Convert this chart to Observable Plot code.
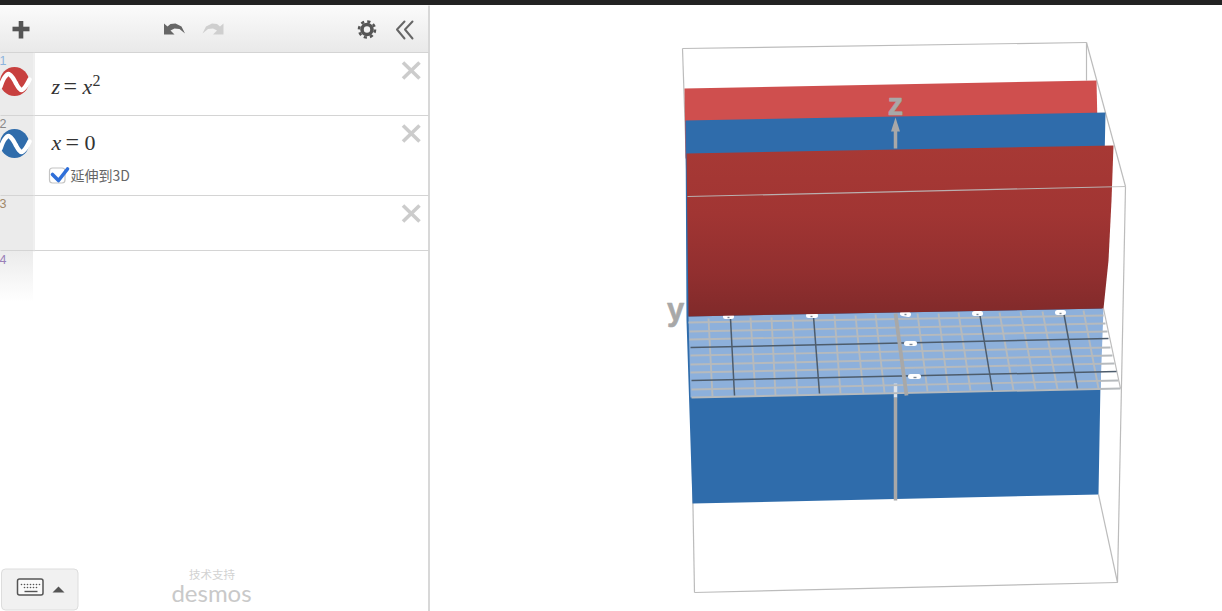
<!DOCTYPE html>
<html><head><meta charset="utf-8">
<script src="https://cdn.jsdelivr.net/npm/d3@7"></script>
<script src="https://cdn.jsdelivr.net/npm/@observablehq/plot@0.6"></script>
<style>html,body{margin:0;padding:0;background:#fff;overflow:hidden}svg{display:block}</style>
</head><body><div id="chart"></div>
<script>
// ---- 3D sheets (picture coordinates)
const sheetRedBack = [[684,88],[1096,80],[1097,125],[685,158]];
const sheetBlue = [[685,120],[1105,112],[1104,160],[1098,494],[692,503],[686,320]];
const sheetRedFront = [[686,153],[1113,145],[1111,200],[1108,260],[1103,308],[688,316]];
const planeLight = [[688,316],[1103,308],[1100,388],[690,397]];
// ---- grid on z = 0
const gridMinorV = [[708,318,712,396],[750,317,755,395],[771,317,775,395],[792,316,797,394],[834,315,840,393],[855,315,863,393],[875,314,884,392],[917,313,927,391],[938,313,948,391],[958,312,970,390],[999,312,1013,390],[1020,311,1035,389],[1042,311,1057,389],[1083,310,1098,388]];
const gridMinorH = [[688,322,1103,315],[689,331,1105,323],[689,339,1107,331],[690,355,1110,347],[690,364,1112,355],[690,372,1114,363],[691,389,1118,380],[691,397,1120,388]];
const gridMajorV = [[730,318,734,395],[813,316,819,393],[979,312,992,390],[1063,311,1077,388]];
const gridMajorH = [[690,347,1108,338],[691,380,1116,371]];
const gridEdge = [[1103,308,1120,388]];
// ---- bounding box
const boxTop = [[682,48,1086,42],[1086,42,1125,186],[682,48,687,196]];
const boxFront = [[687,196,1125,186]];
const boxBack = [[1086,42,1086,80]];
const boxSides = [[687,196,694,592],[1125,186,1117,582],[694,592,1117,582],[1117,582,1098,494]];
// ---- axes
const axisLower = [[895,397,895,500]];
const axisLowerPale = [[895,383,895,397]];
const axisDepth = [[895,313,906,395]];
const axisUpper = [[895,148,895,128]];
const axisHead = [[895,117],[899.5,131],[890.5,131]];
const axisLabels = [{t:"z",x:895,y:105},{t:"y",x:675,y:310}];
const tickBlobs = [[725,316,731,316],[808,315,815,315],[902,313,908,314],[974,313,980,313],[1057,312,1063,312],[906,343,914,343],[910,376,918,376]];
const tickCores = [[727,317,729,317],[810,316,812,316],[904,314,906,314],[976,314,978,314],[1059,313,1061,313],[909,344,912,344],[913,377,916,377]];
// ---- sidebar
const blackBar = [{x1:0,x2:1222,y1:0,y2:5}];
const toolbar = [{x1:0,x2:428,y1:5,y2:52}];
const gutter = [{x1:0,x2:33,y1:52,y2:250}];
const gutterFade = [{x1:0,x2:33,y1:250,y2:302}];
const rowLines = [[0,52,428,52],[0,115,428,115],[0,195,428,195],[0,250,428,250]];
const gutterLine = [[33.5,52,33.5,251]];
const panelLine = [[428.5,5,428.5,611]];
const rowNumbers = [{t:"1",x:-1,y:60,c:"#8db4dd"},{t:"2",x:-1,y:123,c:"#888888"},{t:"3",x:-1,y:203,c:"#a08868"},{t:"4",x:-1,y:259,c:"#9a80b8"}];
const iconDots = [{x:14,y:81,c:"#c8403f"},{x:14,y:143,c:"#2f6cab"}];
const iconWaveRed = [[0,86],[4,77],[8,73.5],[12,77],[15,82],[18,87],[21,89.5],[25,86],[29,79]];
const iconWaveBlue = [[0,148],[4,139],[8,135.5],[12,139],[15,144],[18,149],[21,151.5],[25,148],[29,141]];
const closeBtns = [[402.5,62,419,78],[419,62,402.5,78],[402.5,125,419,141],[419,125,402.5,141],[402.5,205,419,221],[419,205,402.5,221]];
const plusBars = [[12,28.5,29,28.5],[20.5,20.5,20.5,38]];
const undoArrow = [[163.5,23],[163.5,34],[174,34],[170,30],[174,28],[179,28.5],[184.5,33],[181,26],[175,23],[170,23.5],[167,26]];
const redoArrow = [[223,23],[223,34],[212.5,34],[216.5,30],[212.5,28],[207.5,28.5],[202,33],[205.5,26],[211.5,23],[216.5,23.5],[219.5,26]];
const chevronA = [[404,21],[396.5,29],[404,38]];
const chevronB = [[412,21],[404.5,29],[412,38]];
const gear = [{x:366.5,y:29}];
const mathSerifItalic = [{t:"z",x:51,y:89,s:22},{t:"x",x:82,y:89,s:22},{t:"x",x:51,y:145,s:22}];
const mathSerif = [{t:"=",x:63,y:89,s:24},{t:"2",x:92,y:81,s:16},{t:"=",x:65,y:145,s:24},{t:"0",x:84,y:145,s:22}];
const checkBox = [{x1:49.5,x2:65,y1:168,y2:183}];
const checkMark = [[52,174],[58,180],[67,168.5]];
const checkLabel = [{t:"延伸到3D",x:70,y:176}];
const kbButton = [{x1:1.5,x2:78,y1:569,y2:610}];
const kbIcon = [{x1:17.5,x2:43,y1:579,y2:595}];
const kbKeys = [[21,584],[24,584],[27,584],[30,584],[33,584],[36,584],[39,584],[24,587],[27,587],[30,587],[33,587],[36,587]];
const kbSpace = [[24,591,37,591]];
const kbCaret = [[52,592],[64,592],[58,586]];
const credit = [{t:"技术支持",x:211.5,y:575}];
const brand = [{t:"desmos",x:211,y:594}];

const defsSel = d3.create("svg:defs");
const gradient = (id, stops) => {
  const g = defsSel.append("linearGradient").attr("id", id).attr("x1",0).attr("x2",0).attr("y1",0).attr("y2",1);
  stops.forEach(([o,c]) => g.append("stop").attr("offset",o).attr("stop-color",c));
};
gradient("redFade", [[0,"#a73935"],[0.4,"#a13533"],[0.75,"#912f2f"],[1,"#802a2a"]]);
gradient("barFade", [[0,"#fbfbfb"],[1,"#e9e9e9"]]);
gradient("gutFade", [[0,"#ebebeb"],[1,"#ffffff"]]);

const P = d => d[0], Q = d => d[1];
const poly = (pts, fill) => Plot.line(pts, {x:P, y:Q, fill, stroke:"none", curve:"linear-closed"});
const path = (pts, stroke, strokeWidth, extra={}) => Plot.line(pts, {x:P, y:Q, stroke, strokeWidth, ...extra});
const seg = (rows, stroke, strokeWidth, extra={}) => Plot.link(rows, {x1:d=>d[0], y1:d=>d[1], x2:d=>d[2], y2:d=>d[3], stroke, strokeWidth, ...extra});
const box = (rows, opts) => Plot.rect(rows, {x1:"x1", x2:"x2", y1:"y1", y2:"y2", ...opts});
const label = (rows, opts) => Plot.text(rows, {x:"x", y:"y", text:"t", textAnchor:"start", ...opts});

const chart = Plot.plot({
  width:1222, height:611, margin:0,
  x:{domain:[0,1222], range:[0,1222], axis:null},
  y:{domain:[0,611], range:[0,611], axis:null},
  style:{background:"#fff"},
  marks:[
    () => defsSel.node(),
    // 3D scene
    seg(boxTop, "#bcbcbc", 1.2),
    seg(boxBack, "#bcbcbc", 1.2),
    seg(boxSides, "#bcbcbc", 1.2),
    poly(sheetRedBack, "#cf4f4e"),
    poly(sheetBlue, "#2f6cab"),
    seg(axisUpper, "#a8a8a8", 3.5),
    poly(axisHead, "#a8a8a8"),
    seg(axisLower, "#a8a8a8", 3.5),
    poly(planeLight, "#8db0db"),
    seg(axisLowerPale, "#dfe3e8", 3.5),
    seg(gridMinorV, "#b6babd", 1.9),
    seg(gridMinorH, "#b6babd", 1.9),
    seg(gridEdge, "#bcbcbc", 1.2),
    seg(gridMajorH, "#4d5c6c", 1.5),
    seg(gridMajorV, "#4d5c6c", 1.5),
    seg(axisDepth, "#a8a8a8", 3.8),
    seg(tickBlobs, "#ffffff", 5, {strokeLinecap:"round"}),
    seg(tickCores, "#7d8894", 1.4),
    poly(sheetRedFront, "url(#redFade)"),
    seg(boxFront, "#bcbcbc", 1.2, {strokeOpacity:0.9}),
    label(axisLabels, {textAnchor:"middle", fontFamily:"Liberation Sans", fontWeight:"bold", fontSize:31, fill:"#a8a8a8", stroke:"#a8a8a8", strokeWidth:0.6}),
    // side panel
    box(toolbar, {fill:"url(#barFade)"}),
    box(gutter, {fill:"#ebebeb"}),
    box(gutterFade, {fill:"url(#gutFade)"}),
    box(blackBar, {fill:"#222222"}),
    seg(rowLines, "#d4d4d4", 1.2),
    seg(gutterLine, "#e0e0e0", 1),
    seg(panelLine, "#cfcfcf", 1.6),
    label(rowNumbers, {fontFamily:"Liberation Sans", fontSize:12.5, fill:"c"}),
    Plot.dot(iconDots, {x:"x", y:"y", r:14.5, fill:"c", stroke:"none"}),
    path(iconWaveRed, "#fff", 4.4, {curve:"catmull-rom"}),
    path(iconWaveBlue, "#fff", 4.4, {curve:"catmull-rom"}),
    seg(closeBtns, "#cccccc", 3.6),
    seg(plusBars, "#555555", 4.6),
    poly(undoArrow, "#666666"),
    poly(redoArrow, "#cfcfcf"),
    Plot.dot(gear, {x:"x", y:"y", r:8, fill:"none", stroke:"#555555", strokeWidth:2.6, strokeDasharray:"3.2 3.08"}),
    Plot.dot(gear, {x:"x", y:"y", r:5, fill:"none", stroke:"#555555", strokeWidth:3.6}),
    path(chevronA, "#666666", 2),
    path(chevronB, "#666666", 2),
    label(mathSerifItalic, {fontFamily:"Liberation Serif", fontStyle:"italic", fontSize:"s", fill:"#333", lineAnchor:"bottom", dy:4}),
    label(mathSerif, {fontFamily:"Liberation Serif", fontSize:"s", fill:"#333", lineAnchor:"bottom", dy:4}),
    box(checkBox, {fill:"#fff", stroke:"#c4c4c4", strokeWidth:1.2, rx:3}),
    path(checkMark, "#2f6fd9", 3.6),
    label(checkLabel, {fontFamily:"Noto Sans CJK SC", fontSize:14, fill:"#666666"}),
    box(kbButton, {fill:"#f1f1f1", stroke:"#dddddd", strokeWidth:1, rx:4}),
    box(kbIcon, {fill:"#fafafa", stroke:"#555555", strokeWidth:1.5, rx:2}),
    Plot.dot(kbKeys, {x:P, y:Q, r:0.8, fill:"#555555", stroke:"none"}),
    seg(kbSpace, "#555555", 1.4),
    poly(kbCaret, "#555555"),
    label(credit, {textAnchor:"middle", fontFamily:"Noto Sans CJK SC", fontSize:11.5, fill:"#d2d2d2"}),
    label(brand, {textAnchor:"middle", fontFamily:"Lato", fontSize:24, fill:"#c9c9c9"})
  ]
});
document.getElementById("chart").append(chart);
</script></body></html>
